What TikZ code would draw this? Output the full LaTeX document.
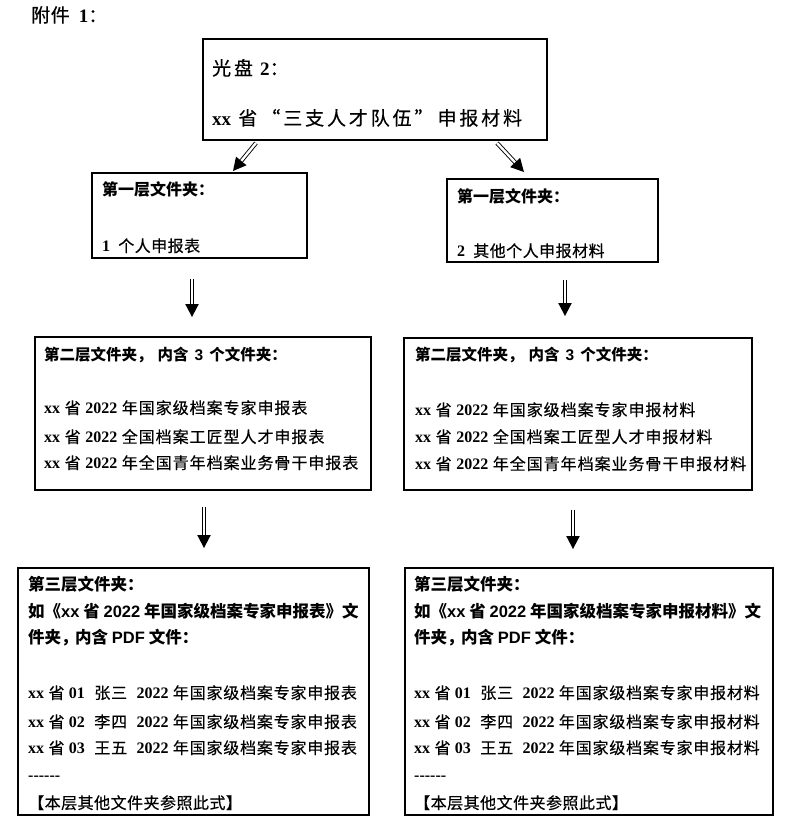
\documentclass[tikz,border=0pt]{standalone}
\usepackage{fontspec}
\usetikzlibrary{calc}
\newfontfamily\cjk{Noto Sans CJK SC}
\newfontfamily\lat{Liberation Serif}
\newfontfamily\hlat{Liberation Sans}
\newcommand\LS[1]{{\lat\bfseries #1}}
\newcommand\LH[1]{{\hlat\bfseries #1}}
\newcommand\dblarrow[2]{%
  \coordinate (tmpH) at ($(#2)!13pt!(#1)$);
  \coordinate (tmpS) at ($(#2)!12pt!(#1)$);
  \draw[dshaft] (#1) -- (tmpS);
  \fill (#2) -- ($(tmpH)!6.8pt!90:(#2)$) -- ($(tmpH)!6.8pt!-90:(#2)$) -- cycle;}
\tikzset{
  box/.style={draw, line width=1.1pt, rectangle, inner sep=0pt},
  dshaft/.style={double, double distance=2.4pt, line width=0.9pt},
  txt/.style={anchor=west, inner sep=0pt, text height=13.5pt, text depth=1.9pt},
  body/.style={txt, font=\fontsize{16}{18}\cjk\addfontfeature{LetterSpace=#1,FakeBold=0.4}},
  body/.default=6,
  head/.style={txt, font=\fontsize{#1}{17}\cjk\bfseries},
  head/.default=15.5,
  toptxt/.style={anchor=west, inner sep=0pt, text height=16.5pt, text depth=2.2pt,
     font=\fontsize{19}{21}\cjk\addfontfeature{LetterSpace=15,FakeBold=0.4}},
}
\begin{document}
\begin{tikzpicture}[x=1pt,y=-1pt]
\fill[white] (0,0) rectangle (792,833);
\useasboundingbox (0,0) rectangle (792,833);

\node[anchor=west, inner sep=0pt, text height=16.5pt, text depth=2.2pt,
  font=\fontsize{19}{21}\cjk\addfontfeature{LetterSpace=3,FakeBold=0.4}] (fj) at (31,15) {附件\hspace{9pt}\LS{1}：};

% boxes
\node[box, minimum width=344pt, minimum height=101pt] (top) at (375,89.5) {};
\node[box, minimum width=215pt, minimum height=85pt] (L1a) at (199.5,215.5) {};
\node[box, minimum width=211pt, minimum height=83pt] (L1b) at (552.5,220.5) {};
\node[box, minimum width=336pt, minimum height=153pt] (L2a) at (203,413.5) {};
\node[box, minimum width=348pt, minimum height=152pt] (L2b) at (578,414) {};
\node[box, minimum width=351pt, minimum height=247pt] (L3a) at (193.5,691.5) {};
\node[box, minimum width=368pt, minimum height=247pt] (L3b) at (589,691.5) {};

% top box text
\node[toptxt] (t1) at (212,68) {光盘 \LS{2}：};
\node[toptxt] (t2) at (212,118) {\LS{xx} 省\hspace{4pt}“\hspace{3pt}三支人才队伍\hspace{3pt}”\hspace{4pt}申报材料};

% level 1
\node[head=16] (h1a) at (102,190) {第一层文件夹：};
\node[body=3] (b1a) at (102,246) {\LS{1}\hspace{4pt} 个人申报表};
\node[head=16] (h1b) at (457,197) {第一层文件夹：};
\node[body=3] (b1b) at (457,251) {\LS{2}\hspace{4pt} 其他个人申报材料};

% level 2
\node[head] (h2a) at (44,355) {第二层文件夹，\hspace{5pt}内含\hspace{6pt}\LH{3}\hspace{6pt}个文件夹：};
\node[body] (b2a1) at (44,408) {\LS{xx} 省 \LS{2022} 年国家级档案专家申报表};
\node[body] (b2a2) at (44,437) {\LS{xx} 省 \LS{2022} 全国档案工匠型人才申报表};
\node[body] (b2a3) at (44,463) {\LS{xx} 省 \LS{2022} 年全国青年档案业务骨干申报表};
\node[head] (h2b) at (415,355) {第二层文件夹，\hspace{5pt}内含\hspace{6pt}\LH{3}\hspace{6pt}个文件夹：};
\node[body] (b2b1) at (415,410) {\LS{xx} 省 \LS{2022} 年国家级档案专家申报材料};
\node[body] (b2b2) at (415,437) {\LS{xx} 省 \LS{2022} 全国档案工匠型人才申报材料};
\node[body] (b2b3) at (415,464) {\LS{xx} 省 \LS{2022} 年全国青年档案业务骨干申报材料};

% level 3 left
\node[head=16.5] (h3a1) at (28,585) {第三层文件夹：};
\node[head=16.5] (h3a2) at (28,612) {如《\LH{xx} 省 \LH{2022} 年国家级档案专家申报表》文};
\node[head=16.5] (h3a3) at (28,638) {件夹\makebox[14pt][l]{，}内含 \LH{PDF} 文件：};
\node[body=5] (b3a1) at (28,693) {\LS{xx} 省 \LS{01}\hspace{5pt} 张三\hspace{5pt} \LS{2022} 年国家级档案专家申报表};
\node[body=5] (b3a2) at (28,722) {\LS{xx} 省 \LS{02}\hspace{5pt} 李四\hspace{5pt} \LS{2022} 年国家级档案专家申报表};
\node[body=5] (b3a3) at (28,748) {\LS{xx} 省 \LS{03}\hspace{5pt} 王五\hspace{5pt} \LS{2022} 年国家级档案专家申报表};
\node[body] (d3a) at (28,775) {\LS{------}};
\node[body=3] (n3a) at (28,803) {【本层其他文件夹参照此式】};

% level 3 right
\node[head=16.5] (h3b1) at (414,585) {第三层文件夹：};
\node[head=16.5] (h3b2) at (414,612) {如《\LH{xx} 省 \LH{2022} 年国家级档案专家申报材料》文};
\node[head=16.5] (h3b3) at (414,638) {件夹\makebox[14pt][l]{，}内含 \LH{PDF} 文件：};
\node[body=5] (b3b1) at (414,693) {\LS{xx} 省 \LS{01}\hspace{5pt} 张三\hspace{5pt} \LS{2022} 年国家级档案专家申报材料};
\node[body=5] (b3b2) at (414,722) {\LS{xx} 省 \LS{02}\hspace{5pt} 李四\hspace{5pt} \LS{2022} 年国家级档案专家申报材料};
\node[body=5] (b3b3) at (414,748) {\LS{xx} 省 \LS{03}\hspace{5pt} 王五\hspace{5pt} \LS{2022} 年国家级档案专家申报材料};
\node[body] (d3b) at (414,775) {\LS{------}};
\node[body=3] (n3b) at (414,803) {【本层其他文件夹参照此式】};

% arrows
\coordinate (a1s) at (256,143); \coordinate (a1e) at (233,171);
\coordinate (a2s) at (497,143); \coordinate (a2e) at (524,172);
\coordinate (a3s) at (192,279); \coordinate (a3e) at (192,317);
\coordinate (a4s) at (565,280); \coordinate (a4e) at (565,316);
\coordinate (a5s) at (204,507); \coordinate (a5e) at (204,548);
\coordinate (a6s) at (573,510); \coordinate (a6e) at (573,549);
\dblarrow{a1s}{a1e}
\dblarrow{a2s}{a2e}
\dblarrow{a3s}{a3e}
\dblarrow{a4s}{a4e}
\dblarrow{a5s}{a5e}
\dblarrow{a6s}{a6e}
\end{tikzpicture}
\end{document}
